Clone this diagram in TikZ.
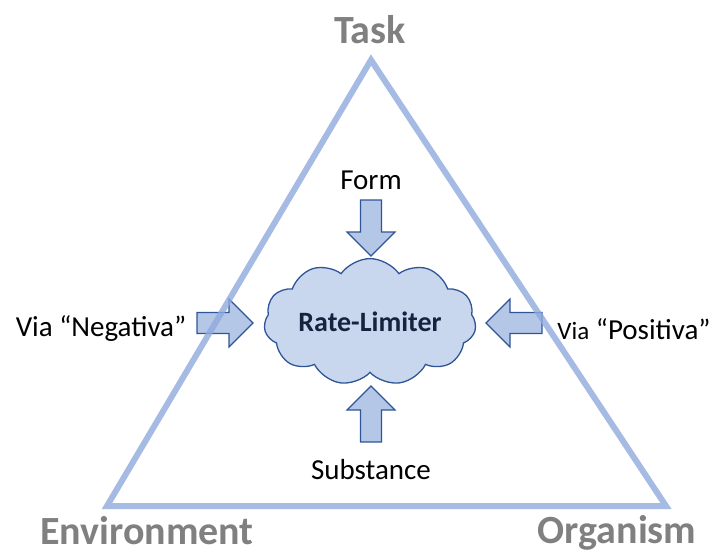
\documentclass[tikz,border=0pt]{standalone}
\usepackage{fontspec}
\setmainfont{Carlito}
\usetikzlibrary{shapes.symbols}
\definecolor{triblue}{RGB}{143,170,220}
\definecolor{arrfill}{RGB}{180,199,231}
\definecolor{arrline}{RGB}{47,85,151}
\definecolor{cloudfill}{RGB}{200,214,238}
\definecolor{navy}{RGB}{22,35,64}
\definecolor{cornergray}{RGB}{128,128,128}
\tikzset{
  corner/.style={font=\fontsize{40}{44}\selectfont\bfseries, text=cornergray, inner sep=0pt, anchor=base},
  lbl/.style={font=\fontsize{29}{32}\selectfont, text=black, inner sep=0pt},
  tri/.style={draw=triblue, line width=6pt, opacity=0.8, line join=miter},
  blockarrow/.style={draw=arrline, fill=arrfill, line width=1.1pt, line join=miter},
  rlcloud/.style={cloud, cloud puffs=11, cloud puff arc=110, aspect=2,
    draw=arrline, fill=cloudfill, line width=1.3pt,
    minimum width=212pt, minimum height=104pt, inner sep=0pt,
    font=\fontsize{28}{32}\selectfont\bfseries, text=navy}
}
\newcommand\blockarr[2]{%
  \draw[blockarrow, shift={#1}, rotate=#2]
    (-28,-10.5) -- (4,-10.5) -- (4,-24) -- (28,0) -- (4,24) -- (4,10.5) -- (-28,10.5) -- cycle;}
\begin{document}
\begin{tikzpicture}[x=1pt,y=-1pt]
\useasboundingbox (0,0) rectangle (712,554);
% corners of triangle
\coordinate (A) at (371,60);
\coordinate (B) at (107,506);
\coordinate (C) at (666,506);
% cloud
\node[rlcloud] (rl) at (370,322) {Rate-Limiter};
% arrows
\coordinate (fa) at (371,228);
\coordinate (sa) at (371,414);
\coordinate (na) at (225,323);
\coordinate (pa) at (514,323);
\blockarr{(fa)}{-90}
\blockarr{(sa)}{90}
\blockarr{(na)}{0}
\blockarr{(pa)}{180}
% triangle
\draw[tri] (A) -- (B) -- (C) -- cycle;
% labels
\node[corner] (task) at (370,43) {Task};
\node[corner] (env) at (147,544) {Environment};
\node[corner] (org) at (617,543) {Organism};
\node[lbl] (form) at (371,180) {Form};
\node[lbl] (subst) at (371,470) {Substance};
\node[lbl] (neg) at (101,329) {Via “Negativa”};
\node[lbl] (pos) at (634,329) {{\fontsize{25}{28}\selectfont Via} “Positiva”};
\end{tikzpicture}
\end{document}
